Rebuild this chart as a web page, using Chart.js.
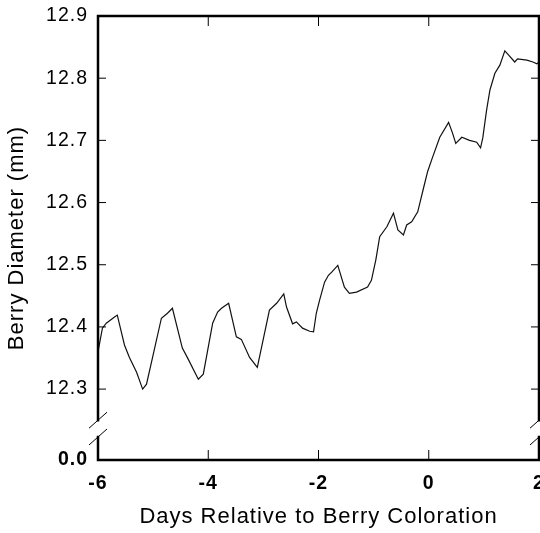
<!DOCTYPE html>
<html lang="en">
<head>
<meta charset="UTF-8">
<title>Berry Diameter</title>
<script src="https://cdn.jsdelivr.net/npm/chart.js"></script>
<style>
    html, body { margin: 0; padding: 0; background: #fff; }
    #wrap { width: 540px; height: 533px; }
</style>
</head>
<body>
<div id="wrap"><canvas id="myChart" width="540" height="533"></canvas></div>
<script>
    // days relative to berry coloration
    const days = [-6.0, -5.92, -5.85, -5.70, -5.65, -5.52, -5.43, -5.30, -5.19, -5.12,
        -5.01, -4.85, -4.74, -4.65, -4.47, -4.38, -4.18, -4.09, -3.92, -3.83,
        -3.76, -3.63, -3.49, -3.40, -3.25, -3.11, -2.89, -2.76, -2.63, -2.58,
        -2.47, -2.40, -2.29, -2.16, -2.09, -2.04, -1.98, -1.89, -1.82, -1.76,
        -1.65, -1.53, -1.44, -1.31, -1.11, -1.04, -0.96, -0.89, -0.76, -0.64,
        -0.56, -0.46, -0.40, -0.31, -0.20, -0.09, -0.02, 0.07, 0.20, 0.36,
        0.43, 0.49, 0.60, 0.74, 0.87, 0.94, 0.98, 1.05, 1.11, 1.20,
        1.29, 1.38, 1.45, 1.56, 1.61, 1.78, 1.89, 1.96, 2.0];
    // berry diameter (mm)
    const diameter = [12.360, 12.398, 12.406, 12.416, 12.419, 12.371, 12.351, 12.327, 12.300, 12.308,
        12.351, 12.414, 12.422, 12.430, 12.366, 12.351, 12.316, 12.324, 12.406, 12.424,
        12.430, 12.438, 12.384, 12.380, 12.351, 12.335, 12.427, 12.438, 12.453, 12.432,
        12.405, 12.408, 12.398, 12.393, 12.392, 12.422, 12.443, 12.472, 12.483, 12.488,
        12.499, 12.464, 12.454, 12.456, 12.464, 12.475, 12.508, 12.545, 12.561, 12.583,
        12.556, 12.548, 12.564, 12.569, 12.585, 12.625, 12.650, 12.673, 12.705, 12.729,
        12.712, 12.695, 12.705, 12.700, 12.697, 12.688, 12.704, 12.749, 12.781, 12.808,
        12.821, 12.844, 12.837, 12.826, 12.831, 12.829, 12.826, 12.823, 12.826];

    const yTicks = [12.3, 12.4, 12.5, 12.6, 12.7, 12.8, 12.9];
    const xTicks = [-6, -4, -2, 0, 2];
    const yBottom = 12.186;      // where the broken axis shows 0.0
    const breakLabel = '0.0';
    const breakTop = 12.250;     // axis gap
    const breakBottom = 12.223;

    const fontFamily = 'Liberation Sans, Arial, sans-serif';

    // the original lettering is a bit wider than Arial
    const spacingPlugin = {
        id: 'spacing',
        beforeUpdate(chart) { chart.ctx.letterSpacing = '1px'; },
        beforeDraw(chart) { chart.ctx.letterSpacing = '1px'; }
    };

    // frame, inward ticks and axis break
    const framePlugin = {
        id: 'frame',
        afterDraw(chart) {
            const {ctx, chartArea: a, scales} = chart;
            const xs = scales.x, ys = scales.y;
            const g1 = ys.getPixelForValue(breakTop);
            const g2 = ys.getPixelForValue(breakBottom);
            ctx.save();
            ctx.strokeStyle = '#000';
            ctx.lineWidth = 2.5;
            ctx.lineCap = 'square';
            ctx.beginPath();
            ctx.moveTo(a.left, a.top); ctx.lineTo(a.right, a.top);
            ctx.moveTo(a.left, a.bottom); ctx.lineTo(a.right, a.bottom);
            ctx.moveTo(a.left, a.top); ctx.lineTo(a.left, g1);
            ctx.moveTo(a.left, g2); ctx.lineTo(a.left, a.bottom);
            ctx.moveTo(a.right, a.top); ctx.lineTo(a.right, g1);
            ctx.moveTo(a.right, g2); ctx.lineTo(a.right, a.bottom);
            ctx.stroke();

            ctx.lineWidth = 1;
            ctx.lineCap = 'butt';
            ctx.beginPath();
            [a.left, a.right].forEach(x0 => {
                [g1, g2].forEach(y0 => {
                    ctx.moveTo(x0 - 9, y0 + 8);
                    ctx.lineTo(x0 + 9, y0 - 8);
                });
            });
            yTicks.forEach(v => {
                const y = ys.getPixelForValue(v);
                ctx.moveTo(a.left, y); ctx.lineTo(a.left + 8, y);
                ctx.moveTo(a.right, y); ctx.lineTo(a.right - 8, y);
            });
            xTicks.forEach(v => {
                const x = xs.getPixelForValue(v);
                ctx.moveTo(x, a.top); ctx.lineTo(x, a.top + 10);
                ctx.moveTo(x, a.bottom); ctx.lineTo(x, a.bottom - 10);
            });
            ctx.stroke();
            ctx.restore();
        }
    };

    const points = days.map((d, i) => ({x: d, y: diameter[i]}));

    const ctx = document.getElementById('myChart').getContext('2d');
    new Chart(ctx, {
        type: 'scatter',
        data: {
            datasets: [{
                data: points,
                showLine: true,
                borderColor: '#111',
                borderWidth: 1.2,
                pointRadius: 0,
                tension: 0
            }]
        },
        options: {
            responsive: false,
            animation: false,
            layout: {padding: {top: 16, right: 1, left: 0, bottom: 0}},
            plugins: {legend: {display: false}, tooltip: {enabled: false}},
            scales: {
                x: {
                    type: 'linear',
                    min: -6,
                    max: 2,
                    grid: {display: false, drawTicks: false},
                    border: {display: false},
                    afterBuildTicks: s => { s.ticks = xTicks.map(v => ({value: v})); },
                    afterFit: s => { s.height = 73; s.paddingRight = 0; s.paddingLeft = 0; },
                    ticks: {
                        padding: 12,
                        color: '#000',
                        font: {family: fontFamily, size: 19.5, weight: 'bold'},
                        callback: v => String(v)
                    },
                    title: {
                        display: true,
                        text: 'Days Relative to Berry Coloration',
                        color: '#000',
                        font: {family: fontFamily, size: 22},
                        padding: {top: 0, bottom: 3}
                    }
                },
                y: {
                    min: yBottom,
                    max: 12.9,
                    grid: {display: false, drawTicks: false},
                    border: {display: false},
                    afterBuildTicks: s => { s.ticks = [yBottom].concat(yTicks).map(v => ({value: v})); },
                    afterFit: s => { s.width = 98; s.paddingTop = 0; s.paddingBottom = 0; },
                    ticks: {
                        padding: 10,
                        color: '#000',
                        font: ctx => ({
                            family: fontFamily,
                            size: 19.5,
                            weight: ctx.tick && ctx.tick.value === yBottom ? 'bold' : 'normal'
                        }),
                        callback: v => v === yBottom ? breakLabel : v.toFixed(1)
                    },
                    title: {
                        display: true,
                        text: 'Berry Diameter (mm)',
                        color: '#000',
                        font: {family: fontFamily, size: 22},
                        padding: {top: 4, bottom: 0}
                    }
                }
            }
        },
        plugins: [spacingPlugin, framePlugin]
    });
</script>
</body>
</html>
